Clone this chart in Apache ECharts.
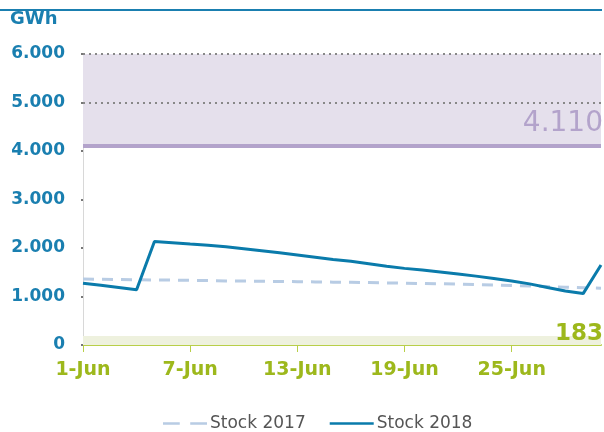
<!DOCTYPE html>
<html>
<head>
<meta charset="utf-8">
<script src="https://cdn.jsdelivr.net/npm/echarts@6/dist/echarts.min.js"></script>
<style>
  html, body { margin: 0; padding: 0; background: #fff; }
  #chart { width: 604px; height: 432px; }
</style>
</head>
<body>
<div id="chart"></div>
<script>
// Daily gas storage levels in June (GWh)
var days = [];
for (var i = 1; i <= 30; i++) days.push(i + '-Jun');

var stock2017 = [1360, 1355, 1350, 1346, 1342, 1338, 1333, 1328, 1322, 1318,
                 1314, 1310, 1306, 1301, 1296, 1292, 1287, 1281, 1275, 1268,
                 1262, 1255, 1246, 1238, 1228, 1218, 1205, 1192, 1182, 1170];
var stock2018 = [1272, 1230, 1185, 1140, 2135, 2110, 2080, 2055, 2025, 1985,
                 1945, 1900, 1855, 1810, 1765, 1725, 1675, 1625, 1580, 1545,
                 1505, 1465, 1420, 1370, 1320, 1260, 1185, 1115, 1060, 1650];

var upperLevel = 4110;   // maximum-capacity band starts here
var bandTop = 6000;
var lowerLevel = 183;    // minimum level

function fmt(v) {
  var s = String(Math.round(v));
  return s.replace(/\B(?=(\d{3})+(?!\d))/g, '.');
}

var chart = echarts.init(document.getElementById('chart'), null, { renderer: 'canvas' });

chart.setOption({
  animation: false,
  textStyle: { fontFamily: 'DejaVu Sans' },
  grid: { left: 83, right: 3, top: 54, bottom: 87, containLabel: false },
  graphic: [
    { type: 'line', z: 100, shape: { x1: 0, y1: 10, x2: 602, y2: 10 },
      style: { stroke: '#1a7fb0', lineWidth: 2 } },
    { type: 'text', z: 100, left: 10, top: 10,
      style: { text: 'GWh', fill: '#1a7fb0', font: 'bold 18px "DejaVu Sans"' } },
    // minimum-level value, sitting on the lower band
    { type: 'text', z: 100, right: 1, top: 323,
      style: { text: fmt(lowerLevel), fill: '#9db81c', font: 'bold 23px "DejaVu Sans"' } }
  ],
  legend: {
    top: 410,
    left: 158,
    itemWidth: 44,
    itemHeight: 10,
    itemGap: 24,
    textStyle: { color: '#555', fontSize: 17, fontFamily: 'DejaVu Sans', padding: [0, 0, 0, -2] },
    data: [
      { name: 'Stock 2017', icon: 'path://M0,4 L16,4 L16,6.6 L0,6.6 Z M26,4 L42,4 L42,6.6 L26,6.6 Z', itemStyle: { color: '#b8cce4' } },
      { name: 'Stock 2018', icon: 'path://M0,4 L44,4 L44,6.6 L0,6.6 Z', itemStyle: { color: '#0a7bab' } }
    ]
  },
  xAxis: {
    type: 'category',
    data: days,
    boundaryGap: false,
    axisLine: { lineStyle: { color: '#b8cf48', width: 2 } },
    axisTick: { interval: 5, length: 7, lineStyle: { color: '#b8cf48', width: 1 } },
    axisLabel: { interval: 5, color: '#9db81c', fontWeight: 'bold', fontSize: 19,
                 fontFamily: 'DejaVu Sans', margin: 16 },
    splitLine: { show: false }
  },
  yAxis: {
    type: 'value',
    min: 0,
    max: 6000,
    interval: 1000,
    axisLine: { show: true, lineStyle: { color: '#d8d8d8', width: 1 } },
    axisTick: { show: true, length: 2, lineStyle: { color: '#777', width: 2 } },
    axisLabel: { color: '#1a7fb0', fontWeight: 'bold', fontSize: 17, margin: 18,
                 fontFamily: 'DejaVu Sans', formatter: fmt },
    splitLine: { show: false }
  },
  series: [
    {
      name: 'Stock 2017',
      type: 'line',
      data: stock2017,
      symbol: 'none',
      lineStyle: { color: '#b8cce4', width: 3, type: [11, 8] },
      itemStyle: { color: '#b8cce4' },
      z: 3,
      markArea: {
        silent: true,
        data: [
          [{ yAxis: upperLevel, itemStyle: { color: '#e5e0ec' } }, { yAxis: bandTop }],
          [{ yAxis: 0, itemStyle: { color: '#eef1de' } }, { yAxis: lowerLevel }]
        ]
      },
      markLine: {
        silent: true,
        symbol: 'none',
        label: { show: false },
        data: [
          { yAxis: 5000, lineStyle: { color: '#888', type: [2, 4], width: 2 } },
          { yAxis: 6000, lineStyle: { color: '#888', type: [2, 4], width: 2 } },
          { yAxis: upperLevel, lineStyle: { color: '#b3a3cb', type: 'solid', width: 4 },
            label: { show: true, position: 'insideEndTop', formatter: fmt(upperLevel),
                     color: '#b3a3cb', fontSize: 28, fontFamily: 'DejaVu Sans',
                     distance: [-2, 8] } }
        ]
      }
    },
    {
      name: 'Stock 2018',
      type: 'line',
      data: stock2018,
      symbol: 'none',
      lineStyle: { color: '#0a7bab', width: 3 },
      itemStyle: { color: '#0a7bab' },
      z: 4
    }
  ]
});
</script>
</body>
</html>
